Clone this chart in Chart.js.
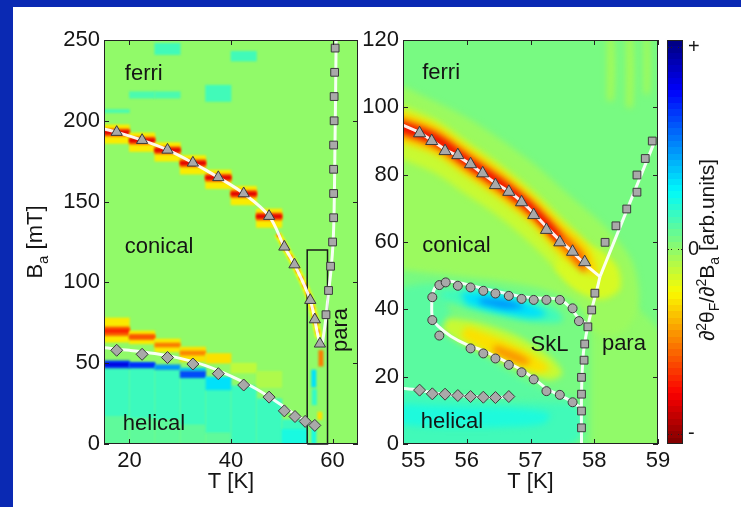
<!DOCTYPE html>
<html><head><meta charset="utf-8">
<script src="https://cdn.jsdelivr.net/npm/chart.js@4.4.1/dist/chart.umd.min.js"></script>
<style>
html,body{margin:0;padding:0;background:#fff;}
#wrap{position:relative;width:741px;height:507px;overflow:hidden;background:#fff;}
#bt{position:absolute;left:0;top:0;width:741px;height:7px;background:#0a29b3;}
#bl{position:absolute;left:0;top:0;width:13px;height:507px;background:#0a29b3;}
canvas{position:absolute;top:0;}
</style></head><body>
<div id="wrap">
<canvas id="c1" width="370" height="507" style="left:0;width:370px;height:507px"></canvas>
<canvas id="c2" width="320" height="507" style="left:360px;width:320px;height:507px"></canvas>
<canvas id="c3" width="81" height="507" style="left:660px;width:81px;height:507px"></canvas>
<div id="bt"></div><div id="bl"></div>
</div>
<script>
// ---------------- DATA: left panel (T in K, Ba in mT) ----------------
const leftXTicks = [20, 40, 60];
const leftYTicks = [0, 50, 100, 150, 200, 250];
const leftTriT = [17.5, 22.5, 27.5, 32.5, 37.5, 42.5, 47.5, 50.5, 52.5, 55.6, 56.5, 57.5];
const leftTriB = [193, 188, 182, 174, 165, 155, 141, 122, 111, 89, 77, 62];
const leftDiaT = [17.5, 22.5, 27.5, 32.5, 37.5, 42.5, 47.5, 50.5, 52.6, 54.6, 56.5];
const leftDiaB = [58, 55.5, 53.5, 49.5, 43.5, 36.5, 29, 20.5, 17, 14, 11.5];
const leftSqT = [60.5, 60.4, 60.3, 60.3, 60.2, 60.2, 60.2, 60.2, 60.0, 59.6, 59.2, 58.7];
const leftSqB = [245, 230, 215, 200, 185, 170, 155, 140, 125, 110, 95, 80];
const leftFerriLineT = [15, 17.5, 22.5, 27.5, 32.5, 37.5, 42.5, 47.5, 50.5, 52.5, 55.6, 57.2, 57.9];
const leftFerriLineB = [195, 193, 188, 182, 174, 165, 155, 141, 122, 111, 89, 66, 60];
const leftParaLineT = [60.7, 60.6, 60.45, 60.3, 60.1, 59.7, 59.1, 58.6, 57.9];
const leftParaLineB = [252, 220, 180, 145, 125, 108, 91, 76, 60];
const leftHelLineT = [15, 20, 25, 30, 35, 40, 45, 50, 53, 55, 56.5];
const leftHelLineB = [59.5, 58, 56, 53, 48.5, 42, 34, 24, 17.5, 14, 11];
const zoomBoxT = [55, 55, 59, 59, 55];
const zoomBoxB = [0, 120, 120, 0, 0];
// heat-map cells (5 K wide columns): centre T, lower B, upper B, colour level (-1..1)
const leftCellT = [27.5,42.5,22.5,27.5,37.5,17.5,
 17.5,17.5,17.5, 22.5,22.5,22.5, 27.5,27.5,27.5, 32.5,32.5,32.5, 37.5,37.5,37.5, 42.5,42.5,42.5, 47.5,47.5,47.5,
 17.5,22.5,27.5,32.5,37.5,
 17.5,22.5,27.5,32.5,37.5,42.5,47.5,52.5,
 17.5,17.5,22.5,22.5,27.5,32.5,32.5,37.5,52.5,
 17.5,17.5,17.5,22.5,22.5,22.5,27.5,27.5,32.5,32.5,37.5,42.5,47.5];
const leftCellB0 = [241,237,214,214,212,205,
 186,190.5,191.8, 181,185.5,186.8, 175,179.5,180.8, 167,171.5,172.8, 158,162.5,163.8, 148,152.5,153.8, 134,138.5,139.8,
 0,0,0,0,0,
 17,16,15,12,7,0,0,0,
 47,48.2,47,48,46,45,41,33.5,0,
 63,67,69,62,64.5,65.5,57,60,51,55,50,44,35];
const leftCellB1 = [248,243,218,218,222,207,
 197.5,195,193.8, 192.5,190,188.8, 186.5,184,182.8, 178.5,176,174.8, 169.5,167,165.8, 159.5,157,155.8, 145.5,143,141.8,
 17,16,15,12,7,
 47,47,46,42,34,36,28,15,
 51.5,50.2,50.5,49.8,49,47,45,41.5,9,
 78,72.5,71,70,68,67,65,62.5,60,57.5,56,50,45];
const leftCellL = [0.12,0.12,0.1,0.1,0.12,0.1,
 -0.28,-0.55,-0.8, -0.28,-0.55,-0.8, -0.28,-0.55,-0.8, -0.28,-0.55,-0.8, -0.28,-0.55,-0.8, -0.28,-0.55,-0.8, -0.28,-0.55,-0.8,
 0.06,0.06,0.06,0.06,0.06,
 0.13,0.13,0.13,0.13,0.13,0.13,0.13,0.13,
 0.6,0.8,0.55,0.68,0.45,0.35,0.6,0.3,0.2,
 -0.28,-0.55,-0.68,-0.28,-0.5,-0.6,-0.28,-0.5,-0.3,-0.48,-0.3,-0.13,-0.1];
// fine measurements near Tc (short streaks)
const leftStreak = [[49.2,130],[52.5,111],[55.5,90],[57.3,66]];
const leftBits = [ [[57.7,58],[57.7,48]], [[56.3,46],[56.3,35]], [[56.4,34],[56.4,24]], [[57.5,20],[57.5,15]], [[56.3,12],[56.3,0]] ];
const leftBitLevels = [-0.5, 0.3, 0.15, -0.3, 0.2];
const leftLabelText = ['ferri', 'conical', 'helical'];
const leftLabelT = [19.1, 19.1, 18.7];
const leftLabelB = [225, 118, 8.7];
const leftParaLabel = {text: 'para', T: 62.8, B: 70.5};

// ---------------- DATA: right panel ----------------
const rightXTicks = [55, 56, 57, 58, 59];
const rightYTicks = [0, 20, 40, 60, 80, 100, 120];
const rightTriT = [55.26,55.45,55.66,55.86,56.06,56.25,56.45,56.66,56.86,57.05,57.25,57.46,57.66,57.85];
const rightTriB = [92.3,90,87,85.8,83.1,80.4,76.9,74.9,71.8,68,63.6,59.9,57.1,54];
const rightSqT = [57.8,57.8,57.8,57.8,57.84,57.85,57.9,57.96,58.01,58.17,58.34,58.51,58.67,58.67,58.8,58.91];
const rightSqB = [4.8,9.8,14.8,19.8,24.9,29.7,34.8,39.8,44.8,59.9,64.8,69.8,74.8,79.9,84.8,90];
const rightCircT = [55.57,55.67,55.86,56.06,56.26,56.45,56.66,56.86,57.05,57.25,57.46,57.66,57.76,55.46,55.46,55.57,56.06,56.26,56.45,56.66,56.86,57.05,57.25,57.46,57.66];
const rightCircB = [47.2,48.0,47.0,46.5,45.5,44.7,44.0,43.1,42.8,42.8,42.8,40.3,36.5,43.6,36.8,32.2,28.4,26.9,25.4,23.5,21.3,19.2,15.7,14.6,12.4];
const rightDiaT = [55.26,55.46,55.66,55.86,56.06,56.26,56.45,56.66];
const rightDiaB = [16.0,14.9,14.8,14.4,14.1,13.9,13.8,14.1];
const rightFerriLineT = [54.9,55.26,55.45,55.66,55.86,56.06,56.25,56.45,56.66,56.86,57.05,57.25,57.46,57.66,57.85,58.09];
const rightFerriLineB = [95.5,92.5,90.2,87.5,85.5,83,80.3,77.5,75,72,68.5,64.5,60.5,57,53.5,49.7];
const rightParaUpT = [58.09, 58.94];
const rightParaUpB = [49.7, 89.5];
const rightParaDownT = [58.09,58.03,57.96,57.9,57.85,57.82,57.8,57.8];
const rightParaDownB = [49.7,45,40,35,30,25,15,0];
const rightSkLLineT = [57.89,57.75,57.6,57.45,57.2,57.0,56.8,56.5,56.2,55.9,55.7,55.55,55.47,55.45,55.47,55.55,55.75,56.0,56.25,56.45,56.66,56.86,57.05,57.25,57.46,57.66,57.8];
const rightSkLLineB = [35.5,37.5,41,43,43.3,43.5,44,45.2,46.5,47.8,48.3,47.5,45,40,37,35,32,29.5,27.8,26,24,22,19.5,16.5,14.5,12.5,10.5];
const rightHelLineT = [54.9,55.26,55.46,55.66,55.86,56.06,56.26,56.45,56.66];
const rightHelLineB = [16.7,16,15.2,14.8,14.4,14.1,13.9,13.8,14.1];
// smooth heat-map regions (outline points) and their colour levels
const rPara = [[57.95,-1],[59.2,-1],[59.2,28],[58.7,40],[58.2,46],[57.95,40]];
const rBroad = [[54.8,108],[56,97],[57,84],[57.6,74],[58.2,64],[58.6,54],[58.7,42],[58.5,34],[58.1,32],[57.7,42],[57.2,46],[56.5,48.5],[55.8,50],[54.8,52]];
const rStripe1 = [[58.2,102],[58.3,102],[58.3,121],[58.2,121]];
const rStripe2 = [[58.5,100],[58.6,100],[58.6,121],[58.5,121]];
const rStripe3 = [[58.78,104],[58.86,104],[58.86,121],[58.78,121]];
const rHalo = [[54.8,102],[55.5,96.5],[56,90],[56.5,83.5],[57,76],[57.5,67],[57.9,60],[58.2,55],[58.25,47],[58.0,45],[57.6,48],[57.2,56],[56.8,63],[56.4,69],[56,74],[55.5,80.5],[54.8,86]];
const rJunction = [[57.5,60],[58.0,58],[58.35,53],[58.4,46],[58.1,43],[57.7,46],[57.4,52]];
const rYellow = [[54.8,100],[55.5,95],[56,88.5],[56.5,82],[57,74.5],[57.5,65.5],[57.9,58.5],[58.05,50],[57.5,55.5],[57,65.5],[56.5,73],[56,79.5],[55.5,86],[54.8,90.5]];
const rOrange = [[54.8,97.8],[55.5,93.1],[56,86.6],[56.5,80.1],[57,72.6],[57.5,63],[57.85,56],[57.85,51],[57.5,58],[57,67.4],[56.5,74.9],[56,81.4],[55.5,87.9],[54.8,92.6]];
const rRed = [[54.8,96.4],[55.5,91.7],[56,85.2],[56.5,78.7],[57,71.2],[57.45,62],[57.45,59.5],[57,68.8],[56.5,76.3],[56,82.8],[55.5,89.3],[54.8,94]];
const rLeftTurq = [[54.8,46],[55.6,47],[55.8,35],[56.3,26],[57,18],[57.7,13],[57.7,11],[56,13.5],[54.8,17]];
const rHelTurq = [[54.8,17],[55.5,15],[56.5,13],[57.3,12.5],[57.75,11],[57.8,2],[57.5,-1],[54.8,-1]];
const rHelCyan = [[54.8,12],[56,11],[56.8,10.5],[57.3,9],[57.2,6],[56.5,5],[55.5,5],[54.8,6]];
const rPocketTurq = [[55.6,46],[56.2,46.5],[56.8,44],[57.4,40],[57.5,36.5],[57.1,36],[56.5,38],[56,40.5],[55.6,43]];
const rPocketCyan = [[55.9,45],[56.4,44.8],[57.0,41.5],[57.25,38.5],[57.0,37.5],[56.5,39.2],[56.0,41.5]];
const rPocketBlue = [[56.2,43.4],[56.6,42.8],[56.9,40.8],[56.6,40.2],[56.2,41.8]];
const rStreakLight = [[55.7,37.5],[56.2,36],[56.8,32],[57.3,26],[57.5,21],[57.3,19],[56.9,22],[56.4,26],[55.9,30],[55.6,34]];
const rStreakYellow = [[56.0,35],[56.5,31.5],[57.0,27],[57.3,22.5],[57.1,21],[56.7,24],[56.2,28.5],[55.9,32]];
const rStreakOrange = [[56.45,29.5],[56.8,27],[57.0,24.5],[56.9,23.5],[56.6,25.5],[56.4,27.5]];
const rightShapes = [rPara, rBroad, rStripe1, rStripe2, rStripe3, rHalo, rJunction, rYellow, rOrange, rRed,
  rLeftTurq, rHelTurq, rHelCyan, rPocketTurq, rPocketCyan, rPocketBlue, rStreakLight, rStreakYellow, rStreakOrange];
const rightShapeLevels = [-0.04, -0.06, -0.08, -0.08, -0.08, -0.15, -0.18, -0.32, -0.55, -0.78,
  0.07, 0.12, 0.19, 0.12, 0.3, 0.45, -0.15, -0.3, -0.45];
const rightLabelText = ['ferri', 'conical', 'SkL', 'para', 'helical'];
const rightLabelT = [55.3, 55.3, 57.0, 58.12, 55.28];
const rightLabelB = [108.4, 57, 27.6, 27.9, 4.75];

// ---------------- colour bar ----------------
const cbMin = -1, cbMax = 1;
const cbTickValues = [-0.95, -0.035, 0.965];
const cbTickLabels = ['-', '0', '+'];

// ---------------- helpers ----------------
const FONT = "'Liberation Sans', Arial, Helvetica, sans-serif";
const INK = '#151515';
function jet(L) {
  const t = (1 - L) / 2;
  const c = v => Math.round(250 * Math.max(0, Math.min(1, v)));
  return `rgb(${c(1.5 - Math.abs(4*t - 3))},${c(1.5 - Math.abs(4*t - 2))},${c(1.5 - Math.abs(4*t - 1))})`;
}
const pts = (T, B) => T.map((t, i) => ({x: t, y: B[i]}));
const pairPts = P => P.map(p => ({x: p[0], y: p[1]}));
const markerSet = (T, B, style, r) => ({type: 'scatter', data: pts(T, B), pointStyle: style, pointRadius: r, pointHoverRadius: r,
  pointBackgroundColor: '#a9a9a9', pointBorderColor: '#3a3a3a', pointBorderWidth: 1, order: 0});
const whiteLine = (T, B) => ({type: 'line', data: pts(T, B), borderColor: 'rgba(255,255,255,0.92)', borderWidth: 3,
  pointRadius: 0, tension: 0.35, fill: false, order: 1, clip: 0});
const shapeSet = (P, L, o) => ({type: 'line', data: pairPts(P), fill: 'shape', backgroundColor: jet(L), borderWidth: 0,
  borderColor: 'rgba(0,0,0,0)', pointRadius: 0, tension: 0.3, order: o, clip: 0, blur: 3});
const segSet = (P, L, w, o, dash) => ({type: 'line', data: pairPts(P), borderColor: jet(L), borderWidth: w, borderDash: dash || [],
  pointRadius: 0, tension: 0.3, fill: false, order: o, clip: 0, blur: 1});

function drawRuns(ctx, runs, x, y, align, rot) {
  ctx.save();
  ctx.translate(x, y);
  if (rot) ctx.rotate(rot);
  let w = 0;
  runs.forEach(r => { ctx.font = `${r.s}px ${FONT}`; r.w = ctx.measureText(r.t).width; w += r.w; });
  let cx = align === 'center' ? -w / 2 : 0;
  ctx.textBaseline = 'alphabetic'; ctx.textAlign = 'left'; ctx.fillStyle = INK;
  runs.forEach(r => { ctx.font = `${r.s}px ${FONT}`; ctx.fillText(r.t, cx, r.dy || 0); cx += r.w; });
  ctx.restore();
}

function setBlurFor(chart, meta) {
  const ds = meta ? chart.data.datasets[meta.index] : null;
  chart.ctx.filter = ds && ds.blur ? `blur(${ds.blur}px)` : 'none';
}

function makeFrame(cfg) {
  return {
    id: 'frame',
    beforeDatasetsDraw(chart) {
      const {ctx, chartArea: a} = chart;
      ctx.save();
      ctx.fillStyle = jet(cfg.base);
      ctx.fillRect(a.left, a.top, a.right - a.left, a.bottom - a.top);
      ctx.restore();
      const metas = chart.getSortedVisibleDatasetMetas();
      setBlurFor(chart, metas[metas.length - 1]);
    },
    afterDatasetDraw(chart, args) {
      const metas = chart.getSortedVisibleDatasetMetas();
      const i = metas.indexOf(args.meta);
      setBlurFor(chart, i > 0 ? metas[i - 1] : null);
    },
    afterDatasetsDraw(chart) {
      const {ctx, chartArea: a, scales: {x, y}} = chart;
      ctx.filter = 'none';
      ctx.save();
      ctx.strokeStyle = '#222'; ctx.lineWidth = 1;
      ctx.strokeRect(a.left + 0.5, a.top + 0.5, a.right - a.left - 1, a.bottom - a.top - 1);
      ctx.beginPath();
      cfg.xTicks.forEach(v => { const px = Math.round(x.getPixelForValue(v)) + 0.5;
        ctx.moveTo(px, a.bottom); ctx.lineTo(px, a.bottom - 5); ctx.moveTo(px, a.top); ctx.lineTo(px, a.top + 5); });
      cfg.yTicks.forEach(v => { const py = Math.round(y.getPixelForValue(v)) + 0.5;
        ctx.moveTo(a.left, py); ctx.lineTo(a.left + 5, py); ctx.moveTo(a.right, py); ctx.lineTo(a.right - 5, py); });
      ctx.stroke();
      ctx.restore();
      cfg.labels.forEach((t, i) => drawRuns(ctx, [{t, s: 22}], x.getPixelForValue(cfg.labT[i]), y.getPixelForValue(cfg.labB[i]), 'left', 0));
      if (cfg.rotLabel) drawRuns(ctx, [{t: cfg.rotLabel.text, s: 22}], x.getPixelForValue(cfg.rotLabel.T), y.getPixelForValue(cfg.rotLabel.B), 'center', -Math.PI / 2);
      drawRuns(ctx, [{t: 'T [K]', s: 22}], (a.left + a.right) / 2, a.bottom + 44, 'center', 0);
      if (cfg.yTitle) drawRuns(ctx, [{t: 'B', s: 22}, {t: 'a', s: 15, dy: 6}, {t: ' [mT]', s: 22}], a.left - 62, (a.top + a.bottom) / 2, 'center', -Math.PI / 2);
    }
  };
}

function xAxis(min, max, ticks, shiftFirst) {
  return {type: 'linear', min, max, offset: false, grid: {display: false, drawTicks: false}, border: {display: false},
    ticks: {font: {family: FONT, size: 22}, color: INK, padding: 4, maxRotation: 0, autoSkip: false,
      callback: (v, i) => String(ticks[i])},
    afterBuildTicks: s => { s.ticks = ticks.map((v, i) => ({value: (i === 0 && shiftFirst) ? v + shiftFirst : v})); },
    afterFit: s => { s.height = 63; }};
}
function yAxis(min, max, ticks, width) {
  return {type: 'linear', min, max, offset: false, grid: {display: false, drawTicks: false}, border: {display: false},
    ticks: {font: {family: FONT, size: 22}, color: INK, padding: 4, autoSkip: false,
      callback: (v, i) => String(ticks[i])},
    afterBuildTicks: s => { s.ticks = ticks.map(v => ({value: v})); },
    afterFit: s => { s.width = width; }};
}
const baseOpts = (pad) => ({responsive: false, animation: false, events: [], layout: {padding: pad},
  plugins: {legend: {display: false}, tooltip: {enabled: false}}});

// ---------------- left chart ----------------
const leftDatasets = [
  markerSet(leftTriT, leftTriB, 'triangle', 6.5),
  markerSet(leftDiaT, leftDiaB, 'rectRot', 6),
  markerSet(leftSqT, leftSqB, 'rect', 5.5),
  whiteLine(leftFerriLineT, leftFerriLineB),
  whiteLine(leftParaLineT, leftParaLineB),
  whiteLine(leftHelLineT, leftHelLineB),
  {type: 'line', data: pts(zoomBoxT, zoomBoxB), borderColor: '#1a1a1a', borderWidth: 1.5, pointRadius: 0, tension: 0, fill: false, order: 1, clip: 3},
  segSet(leftStreak, -0.75, 2.5, 3, [4, 4]),
  segSet(leftStreak, -0.25, 7, 4),
  ...leftBits.map((b, i) => segSet(b, leftBitLevels[i], 5, 5)),
  {type: 'bar', data: leftCellT.map((t, i) => ({x: t, y: [leftCellB0[i], leftCellB1[i]]})),
    backgroundColor: leftCellL.map(jet), borderWidth: 0, barPercentage: 1, categoryPercentage: 1, order: 200, clip: 0, blur: 0.8}
];
new Chart(document.getElementById('c1'), {
  type: 'scatter',
  data: {datasets: leftDatasets},
  options: Object.assign(baseOpts({left: 0, top: 40, right: 12, bottom: 0}), {
    scales: {x: xAxis(15, 65, leftXTicks, 0), y: yAxis(0, 250, leftYTicks, 104)}}),
  plugins: [makeFrame({base: -0.04, xTicks: leftXTicks, yTicks: leftYTicks, labels: leftLabelText, labT: leftLabelT, labB: leftLabelB,
    rotLabel: leftParaLabel, yTitle: true})]
});

// ---------------- right chart ----------------
const rightDatasets = [
  markerSet(rightTriT, rightTriB, 'triangle', 7),
  markerSet(rightSqT, rightSqB, 'rect', 5.5),
  markerSet(rightCircT, rightCircB, 'circle', 4.5),
  markerSet(rightDiaT, rightDiaB, 'rectRot', 6),
  whiteLine(rightFerriLineT, rightFerriLineB),
  whiteLine(rightParaUpT, rightParaUpB),
  whiteLine(rightParaDownT, rightParaDownB),
  whiteLine(rightSkLLineT, rightSkLLineB),
  whiteLine(rightHelLineT, rightHelLineB),
  ...rightShapes.map((P, i) => shapeSet(P, rightShapeLevels[i], 100 - i))
];
new Chart(document.getElementById('c2'), {
  type: 'scatter',
  data: {datasets: rightDatasets},
  options: Object.assign(baseOpts({left: 0, top: 40, right: 22, bottom: 0}), {
    scales: {x: xAxis(55, 59, rightXTicks, 0.16), y: yAxis(0, 120, rightYTicks, 43)}}),
  plugins: [makeFrame({base: 0.01, xTicks: rightXTicks, yTicks: rightYTicks, labels: rightLabelText, labT: rightLabelT, labB: rightLabelB,
    rotLabel: null, yTitle: false})]
});

// ---------------- colour bar ----------------
function cbGradient(chart) {
  const a = chart.chartArea;
  if (!a) return jet(0);
  const g = chart.ctx.createLinearGradient(0, a.top, 0, a.bottom);
  const n = 64;
  for (let k = 0; k < n; k++) {
    const col = jet(1 - 2 * (k + 0.5) / n);
    g.addColorStop(k / n, col);
    g.addColorStop((k + 1) / n - 1e-6, col);
  }
  return g;
}
const cbPlugin = {
  id: 'cbframe',
  afterDatasetsDraw(chart) {
    const {ctx, chartArea: a, scales: {y}} = chart;
    ctx.save();
    ctx.strokeStyle = '#222'; ctx.lineWidth = 1;
    ctx.strokeRect(a.left + 0.5, a.top + 0.5, a.right - a.left - 1, a.bottom - a.top - 1);
    ctx.setLineDash([2, 2]);
    ctx.beginPath();
    cbTickValues.forEach(v => { const py = Math.round(y.getPixelForValue(v)) + 0.5;
      ctx.moveTo(a.left, py); ctx.lineTo(a.left + 5, py); ctx.moveTo(a.right, py); ctx.lineTo(a.right - 5, py); });
    ctx.stroke();
    ctx.restore();
    drawRuns(ctx, [{t: '\u2202', s: 21}, {t: '2', s: 14, dy: -8}, {t: '\u03B8', s: 21}, {t: 'F', s: 14, dy: 5},
      {t: '/\u2202', s: 21}, {t: '2', s: 14, dy: -8}, {t: 'B', s: 21}, {t: 'a', s: 14, dy: 5}, {t: ' [arb.units]', s: 21}],
      a.right + 31, 250, 'center', -Math.PI / 2);
  }
};
new Chart(document.getElementById('c3'), {
  type: 'bar',
  data: {labels: [''], datasets: [{data: [[cbMin, cbMax]], backgroundColor: c => cbGradient(c.chart), borderWidth: 0,
    barPercentage: 1, categoryPercentage: 1}]},
  options: Object.assign(baseOpts({left: 7, top: 40, right: 0, bottom: 63}), {
    scales: {
      x: {display: false, offset: true},
      y: {position: 'right', min: cbMin, max: cbMax, grid: {display: false, drawTicks: false}, border: {display: false},
        ticks: {font: {family: FONT, size: 20}, color: INK, padding: 5, autoSkip: false, callback: (v, i) => cbTickLabels[i]},
        afterBuildTicks: s => { s.ticks = cbTickValues.map(v => ({value: v})); },
        afterFit: s => { s.width = 58; }}
    }}),
  plugins: [cbPlugin]
});
</script>
</body></html>
